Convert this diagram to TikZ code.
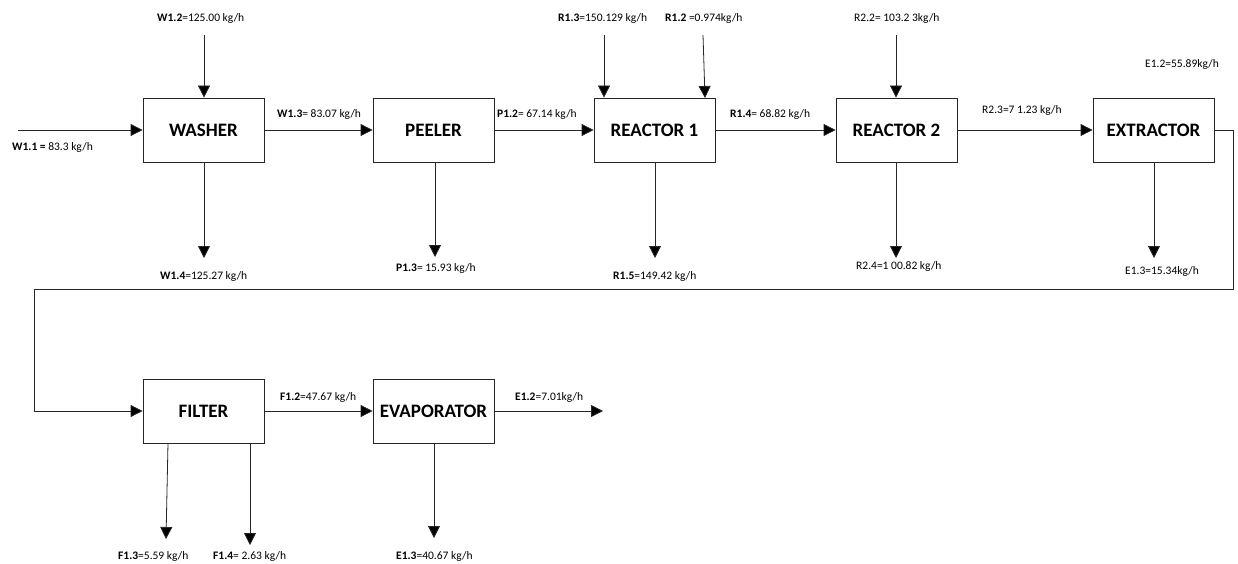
\documentclass[tikz,border=0pt]{standalone}
\usepackage{fontspec}
\setmainfont{Carlito}
\usetikzlibrary{arrows.meta}
\begin{document}
\begin{tikzpicture}[x=1pt,y=-1pt,
  unit/.style={draw=black!85, line width=0.8pt, minimum width=121pt, minimum height=64pt, inner sep=0pt, font=\fontsize{19}{21}\selectfont\bfseries},
  flow/.style={draw=black!85, line width=0.8pt, -{Triangle[length=12pt,width=12pt,fill=black]}},
  lab/.style={font=\fontsize{11.5}{13}\selectfont, inner sep=0pt, anchor=west}]
\useasboundingbox (0,0) rectangle (1238,564);

% units
\node[unit] (washer) at (203.5,130) {WASHER};
\node[unit] (peeler) at (433.5,130) {PEELER};
\node[unit] (r1) at (654.5,130) {REACTOR 1};
\node[unit] (r2) at (896.5,130) {REACTOR 2};
\node[unit] (ext) at (1153.5,130) {EXTRACTOR};
\node[unit] (filter) at (203.5,411) {FILTER};
\node[unit] (evap) at (433.5,411) {EVAPORATOR};

% free ends
\coordinate (w11) at (18,130);
\coordinate (w12) at (204,35);
\coordinate (w14) at (204,258);
\coordinate (p13) at (435,257);
\coordinate (r13) at (604,35);
\coordinate (r12) at (703,35);
\coordinate (r12e) at (705,98);
\coordinate (r15) at (655,258);
\coordinate (r22) at (896,35);
\coordinate (r24) at (896,258);
\coordinate (e13) at (1154,258);
\coordinate (c1) at (1233,289);
\coordinate (c2) at (34,289);
\coordinate (ev2) at (603,411);
\coordinate (f13s) at (168,443);
\coordinate (f13) at (166,539);
\coordinate (f14s) at (250,443);
\coordinate (f14) at (250,545);
\coordinate (ev3) at (434,538);

% connectors
\draw[flow] (w11) -- (washer.west);
\draw[flow] (w12) -- (washer.north -| w12);
\draw[flow] (washer.south -| w14) -- (w14);
\draw[flow] (washer.east) -- (peeler.west);
\draw[flow] (peeler.south -| p13) -- (p13);
\draw[flow] (peeler.east) -- (r1.west);
\draw[flow] (r13) -- (r1.north -| r13);
\draw[flow] (r12) -- (r12e);
\draw[flow] (r1.south -| r15) -- (r15);
\draw[flow] (r1.east) -- (r2.west);
\draw[flow] (r22) -- (r2.north -| r22);
\draw[flow] (r2.south -| r24) -- (r24);
\draw[flow] (r2.east) -- (ext.west);
\draw[flow] (ext.south -| e13) -- (e13);
\draw[flow] (ext.east) -| (c1) -- (c2) |- (filter.west);
\draw[flow] (filter.east) -- (evap.west);
\draw[flow] (evap.east) -- (ev2);
\draw[flow] (f13s) -- (f13);
\draw[flow] (f14s) -- (f14);
\draw[flow] (evap.south -| ev3) -- (ev3);

% labels
\node[lab] (lw11) at (12,147) {\textbf{W1.1 =} 83.3 kg/h};
\node[lab] (lw12) at (157,18) {\textbf{W1.2}=125.00 kg/h};
\node[lab] (lw13) at (277,114) {\textbf{W1.3}= 83.07 kg/h};
\node[lab] (lw14) at (160,276) {\textbf{W1.4}=125.27 kg/h};
\node[lab] (lp12) at (497,114) {\textbf{P1.2}= 67.14 kg/h};
\node[lab] (lp13) at (396,268) {\textbf{P1.3}= 15.93 kg/h};
\node[lab] (lr13) at (558,18) {\textbf{R1.3}=150.129 kg/h};
\node[lab] (lr12) at (665,18) {\textbf{R1.2} =0.974kg/h};
\node[lab] (lr14) at (730,114) {\textbf{R1.4}= 68.82 kg/h};
\node[lab] (lr15) at (613,276) {\textbf{R1.5}=149.42 kg/h};
\node[lab] (lr22) at (854,18) {R2.2= 103.2 3kg/h};
\node[lab] (lr24) at (856,266) {R2.4=1 00.82 kg/h};
\node[lab] (lr23) at (982,110) {R2.3=7 1.23 kg/h};
\node[lab] (le12) at (1145,64) {E1.2=55.89kg/h};
\node[lab] (le13) at (1125,271) {E1.3=15.34kg/h};
\node[lab] (lf12) at (280,397) {\textbf{F1.2}=47.67 kg/h};
\node[lab] (lev2) at (515,397) {\textbf{E1.2}=7.01kg/h};
\node[lab] (lf13) at (118,556) {\textbf{F1.3}=5.59 kg/h};
\node[lab] (lf14) at (213,556) {\textbf{F1.4}= 2.63 kg/h};
\node[lab] (lev3) at (396,556) {\textbf{E1.3}=40.67 kg/h};
\end{tikzpicture}
\end{document}
